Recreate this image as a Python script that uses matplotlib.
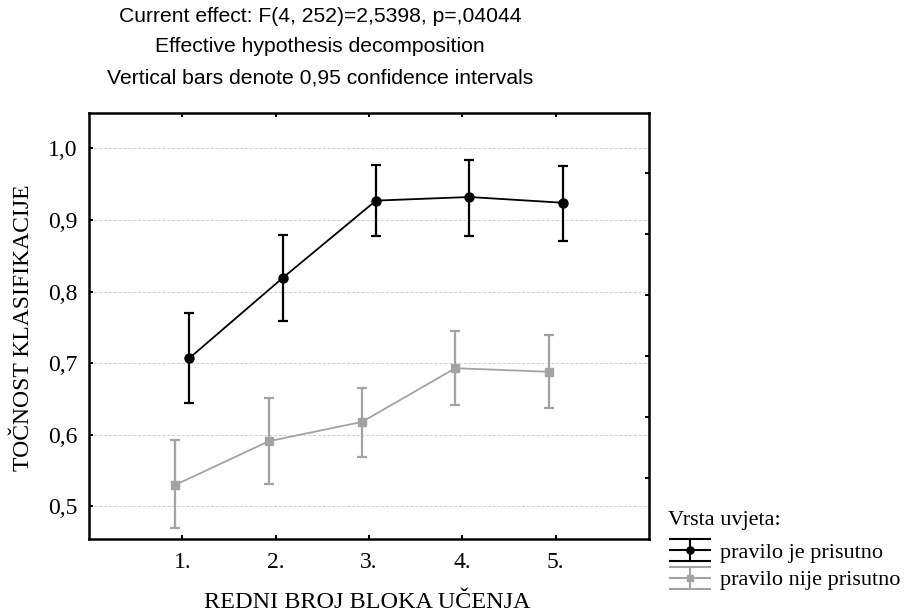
import matplotlib
matplotlib.use("Agg")
import matplotlib.pyplot as plt
from matplotlib.legend_handler import HandlerBase
from matplotlib.lines import Line2D
import numpy as np

blocks = [1, 2, 3, 4, 5]
block_labels = ["1.", "2.", "3.", "4.", "5."]

present_mean = [0.707, 0.819, 0.927, 0.932, 0.924]
present_lo = [0.644, 0.759, 0.878, 0.878, 0.871]
present_hi = [0.770, 0.879, 0.977, 0.984, 0.975]

absent_mean = [0.530, 0.591, 0.618, 0.693, 0.688]
absent_lo = [0.470, 0.531, 0.569, 0.641, 0.637]
absent_hi = [0.593, 0.651, 0.666, 0.745, 0.740]

y_ticks = [0.5, 0.6, 0.7, 0.8, 0.9, 1.0]
y_tick_labels = ["0,5", "0,6", "0,7", "0,8", "0,9", "1,0"]

series_names = ["pravilo je prisutno", "pravilo nije prisutno"]
GRAY = "#a3a3a3"

SERIF = ["Liberation Serif", "DejaVu Serif"]
SANS = ["Liberation Sans", "DejaVu Sans"]


class ErrorbarKey(HandlerBase):
    # legend key: line with marker, vertical bar and full-width caps
    def create_artists(self, legend, orig, xdescent, ydescent, width, height,
                       fontsize, trans):
        c = orig.get_color()
        xm = -xdescent + width / 2
        ym = -ydescent + height / 2
        half = 11 * 72 / 100.0
        x0, x1 = -xdescent, -xdescent + width
        arts = [
            Line2D([x0, x1], [ym, ym], color=c, lw=1.5),
            Line2D([x0, x1], [ym + half, ym + half], color=c, lw=1.5),
            Line2D([x0, x1], [ym - half, ym - half], color=c, lw=1.5),
            Line2D([xm, xm], [ym - half, ym + half], color=c, lw=1.5),
            Line2D([xm], [ym], color=c, marker=orig.get_marker(),
                   markersize=orig.get_markersize() * 0.8, ls="none"),
        ]
        for a in arts:
            a.set_transform(trans)
        return arts


fig = plt.figure(figsize=(9.19, 6.16), dpi=100)
ax = fig.add_axes([89 / 919, 77 / 616, 560 / 919, 426.5 / 616])

x = np.array(blocks, dtype=float)
shift = 0.075

pm = np.array(present_mean)
am = np.array(absent_mean)
ax.errorbar(x + shift, pm, yerr=[pm - np.array(present_lo), np.array(present_hi) - pm],
            color="black", lw=1.3, elinewidth=1.6, capsize=3.3, capthick=1.6,
            marker="o", markersize=6.5, zorder=4)
ax.errorbar(x - shift, am, yerr=[am - np.array(absent_lo), np.array(absent_hi) - am],
            color=GRAY, lw=1.3, elinewidth=1.6, capsize=3.3, capthick=1.6,
            marker="s", markersize=5.8, zorder=3)

ax.set_xlim(0, 6)
ax.set_ylim(0.4545, 1.05)
ax.set_xticks(blocks)
ax.set_xticklabels(block_labels, family=SERIF, fontsize=17)
ax.set_yticks(y_ticks)
ax.set_yticklabels(y_tick_labels, family=SERIF, fontsize=17)
ax.tick_params(direction="in", length=3, width=1.4, top=True)
ax.tick_params(axis="x", pad=9)
ax.tick_params(axis="y", pad=8)
ax.grid(axis="y", color="#cfcfcf", ls=(0, (3, 2)), lw=0.7)
ax.set_axisbelow(True)
for s in ax.spines.values():
    s.set_linewidth(1.8)

# right-hand axis ticks split the height into 7 equal parts
rax = ax.twinx()
rax.set_ylim(0, 7)
rax.set_yticks([1, 2, 3, 4, 5, 6])
rax.tick_params(direction="in", length=3, width=1.4, labelright=False)
for s in rax.spines.values():
    s.set_visible(False)

fig.text(320 / 919, 1 - 16 / 616, "Current effect: F(4, 252)=2,5398, p=,04044",
         family=SANS, fontsize=15.2, ha="center", va="center")
fig.text(320 / 919, 1 - 47 / 616, "Effective hypothesis decomposition",
         family=SANS, fontsize=15.2, ha="center", va="center")
fig.text(320 / 919, 1 - 78 / 616, "Vertical bars denote 0,95 confidence intervals",
         family=SANS, fontsize=15.2, ha="center", va="center")

fig.text(24 / 919, 1 - 328 / 616, "TOČNOST KLASIFIKACIJE", family=SERIF,
         fontsize=17, rotation=90, ha="center", va="center")
fig.text(367 / 919, 1 - 603 / 616, "REDNI BROJ BLOKA UČENJA", family=SERIF,
         fontsize=17.5, ha="center", va="center")

# legend heading sits as its own line above the keys
fig.text(668 / 919, 1 - 521 / 616, "Vrsta uvjeta:", family=SERIF, fontsize=16,
         ha="left", va="center")
handles = [Line2D([], [], color="black", marker="o", markersize=6.5),
           Line2D([], [], color=GRAY, marker="s", markersize=5.8)]
leg = fig.legend(handles, series_names, loc="upper left",
                 bbox_to_anchor=(670 / 919, 1 - 542 / 616), frameon=False,
                 prop={"family": SERIF, "size": 16},
                 handler_map={h: ErrorbarKey() for h in handles},
                 handlelength=1.8, handletextpad=0.45, labelspacing=0.33,
                 borderpad=0, borderaxespad=0)

fig.savefig("out.png", dpi=100)
